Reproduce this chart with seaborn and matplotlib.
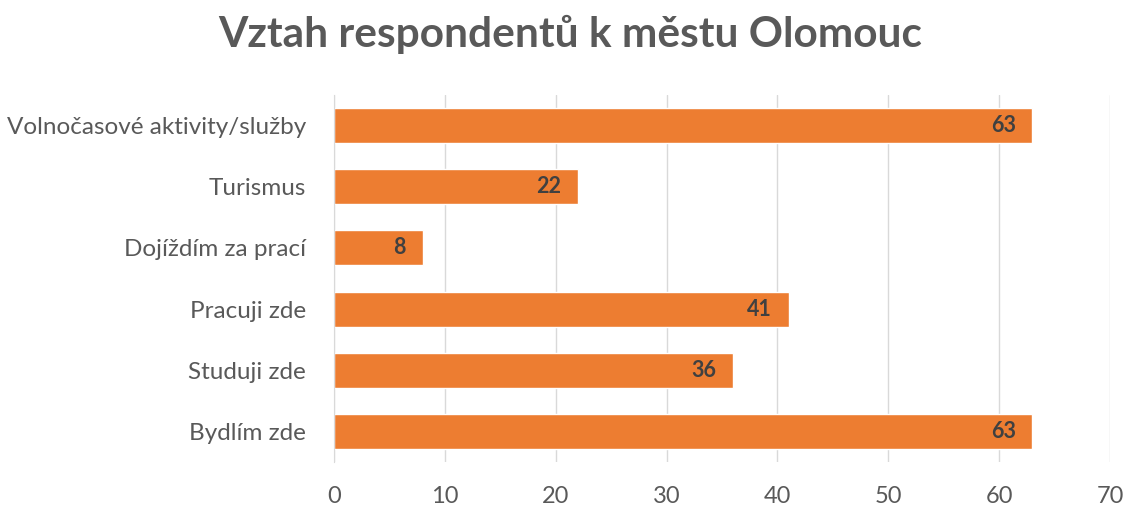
import pandas as pd
import matplotlib.pyplot as plt
import seaborn as sns

# data (top to bottom)
categories = ['Volnočasové aktivity/služby', 'Turismus', 'Dojíždím za prací',
              'Pracuji zde', 'Studuji zde', 'Bydlím zde']
counts = [63, 22, 8, 41, 36, 63]
x_ticks = [0, 10, 20, 30, 40, 50, 60, 70]

df = pd.DataFrame({'kategorie': categories, 'pocet': counts})

sns.set_style('white')
plt.rcParams['font.family'] = ['Lato', 'DejaVu Sans']

fig = plt.figure(figsize=(11.26, 5.07), dpi=100)
ax = fig.add_axes([0.2966, 0.0888, 0.6892, 0.7238])

sns.barplot(data=df, x='pocet', y='kategorie', color='#ED7D31', saturation=1,
            width=0.57, ax=ax)

ax.set_xlim(0, 70)
ax.set_xticks(x_ticks)
ax.xaxis.grid(True, color='#D9D9D9', linewidth=1)
ax.set_axisbelow(True)
for s in ['top', 'right', 'bottom']:
    ax.spines[s].set_visible(False)
ax.spines['left'].set_color('#D9D9D9')
ax.tick_params(axis='y', length=0, labelsize=17.5, colors='#595959', pad=20)
ax.tick_params(axis='x', length=0, labelsize=17, colors='#595959', pad=17)
ax.set_xlabel('')
ax.set_ylabel('')

# value labels inside the bar ends
for i, v in enumerate(counts):
    ax.annotate(str(v), xy=(v, i), xytext=(-12, 0), textcoords='offset points',
                ha='right', va='center', fontsize=15.5, fontweight='bold',
                color='#404040')

fig.suptitle('Vztah respondentů k městu Olomouc', x=0.506, y=0.97,
             fontsize=30.5, fontweight='bold', color='#595959')

fig.savefig('out.png', dpi=100)
